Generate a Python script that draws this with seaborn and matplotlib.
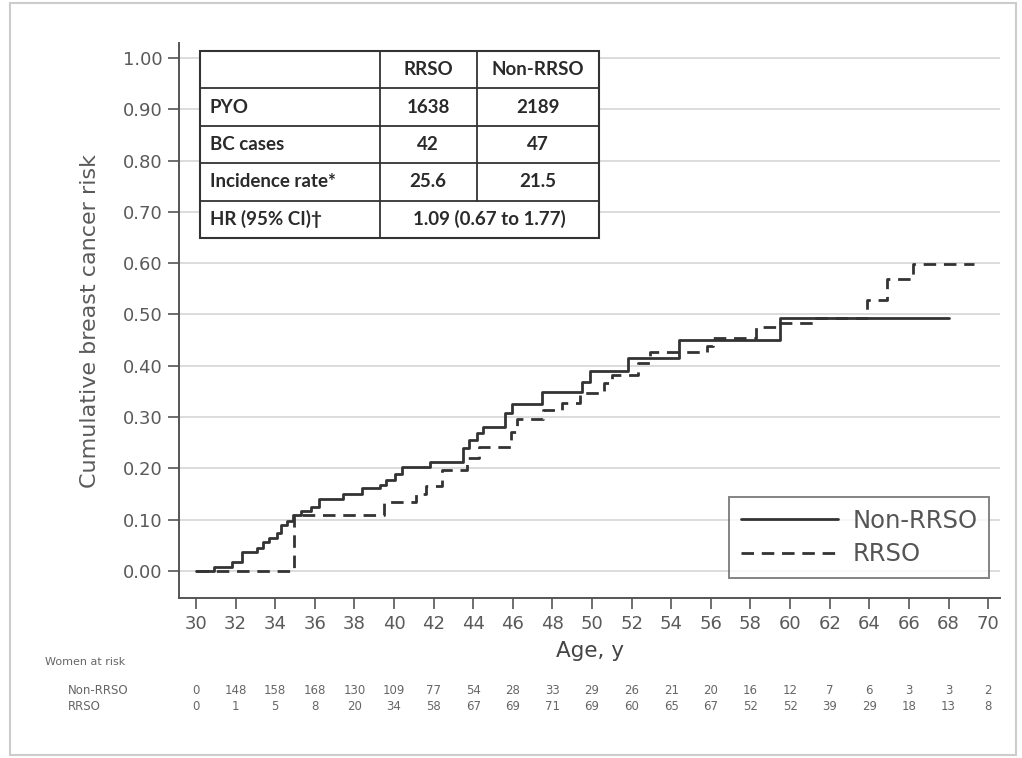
import numpy as np
import pandas as pd
import matplotlib
matplotlib.use("Agg")
import matplotlib.pyplot as plt
import seaborn as sns
from matplotlib.lines import Line2D
from matplotlib.patches import Rectangle

# ---------------- data ----------------
non_age = [30.0, 30.9, 31.8, 32.3, 33.1, 33.4, 33.7, 34.1, 34.3, 34.6, 34.9, 35.3, 35.8,
           36.2, 37.4, 38.4, 39.3, 39.6, 40.05, 40.4, 41.8, 43.5, 43.8, 44.2, 44.5, 45.6,
           45.95, 47.45, 49.5, 49.9, 51.8, 54.4, 59.5, 68.0]
non_risk = [0.0, 0.008, 0.017, 0.037, 0.045, 0.057, 0.065, 0.075, 0.089, 0.098, 0.110,
            0.116, 0.125, 0.140, 0.151, 0.161, 0.168, 0.177, 0.190, 0.203, 0.213, 0.239,
            0.255, 0.268, 0.281, 0.307, 0.326, 0.348, 0.369, 0.390, 0.415, 0.450, 0.494, 0.494]
rrso_age = [30.0, 34.95, 39.5, 41.1, 41.6, 42.4, 43.7, 44.3, 45.9, 46.2, 47.5, 48.5, 49.4,
            50.6, 51.0, 52.3, 52.9, 55.8, 56.1, 58.3, 59.5, 61.2, 63.9, 64.9, 66.2, 69.3]
rrso_risk = [0.0, 0.109, 0.134, 0.150, 0.166, 0.197, 0.220, 0.241, 0.270, 0.296, 0.314,
             0.327, 0.346, 0.366, 0.382, 0.405, 0.427, 0.439, 0.454, 0.475, 0.483, 0.493,
             0.528, 0.569, 0.598, 0.598]

risk_ages = list(range(30, 71, 2))
at_risk_non = [0, 148, 158, 168, 130, 109, 77, 54, 28, 33, 29, 26, 21, 20, 16, 12, 7, 6, 3, 3, 2]
at_risk_rrso = [0, 1, 5, 8, 20, 34, 58, 67, 69, 71, 69, 60, 65, 67, 52, 52, 39, 29, 18, 13, 8]

table_cols = ["", "RRSO", "Non-RRSO"]
table_rows = ["PYO", "BC cases", "Incidence rate*", "HR (95% CI)\u2020"]
table_rrso = ["1638", "42", "25.6"]
table_non = ["2189", "47", "21.5"]
table_hr = "1.09 (0.67 to 1.77)"

df = pd.concat([
    pd.DataFrame({"age": non_age, "risk": non_risk, "group": "Non-RRSO"}),
    pd.DataFrame({"age": rrso_age, "risk": rrso_risk, "group": "RRSO"}),
], ignore_index=True)

# ---------------- style ----------------
sns.set_theme(style="white")
plt.rcParams["font.family"] = ["DejaVu Sans"]

W, H = 1022, 758
fig = plt.figure(figsize=(W / 100, H / 100), dpi=100)
fig.patch.set_facecolor("white")

def fx(px):
    return px / W

def fy(py):
    return 1 - py / H

ax_l, ax_r, ax_t, ax_b = 179, 1000, 43, 598
ax = fig.add_axes([fx(ax_l), fy(ax_b), fx(ax_r - ax_l), (ax_b - ax_t) / H])

line_col = "#333333"
dash_pat = (4.5, 2.8)
sns.lineplot(data=df, x="age", y="risk", style="group",
             dashes={"Non-RRSO": "", "RRSO": dash_pat},
             estimator=None, sort=False, color=line_col, linewidth=2.0,
             drawstyle="steps-post", legend=False, ax=ax)

ax.set_xlim(29.14, 70.6)
ax.set_ylim(-0.0526, 1.029)
ax.set_xticks(risk_ages)
ax.set_yticks(np.arange(0, 1.001, 0.1))
ax.set_yticklabels([f"{v:.2f}" for v in np.arange(0, 1.001, 0.1)])
ax.yaxis.grid(True, color="#dcdcdc", linewidth=1.4)
ax.xaxis.grid(False)
ax.set_axisbelow(True)
for s in ["top", "right"]:
    ax.spines[s].set_visible(False)
for s in ["left", "bottom"]:
    ax.spines[s].set_color("#555555")
    ax.spines[s].set_linewidth(1.4)
ax.tick_params(axis="both", which="major", direction="out", length=8, width=1.2,
               color="#555555", labelcolor="#5a5a5a", labelsize=13, pad=4,
               bottom=True, left=True)
ax.set_xlabel("Age, y", fontsize=15.5, color="#444444", labelpad=6)
ax.set_ylabel("Cumulative breast cancer risk", fontsize=16, color="#5a5a5a", labelpad=16)

# legend
handles = [Line2D([], [], color=line_col, lw=2.0, linestyle="-"),
           Line2D([], [], color=line_col, lw=2.0, linestyle=(0, dash_pat))]
leg = ax.legend(handles, ["Non-RRSO", "RRSO"], loc="lower right",
                bbox_to_anchor=(0.987, 0.036), fontsize=17.5, handlelength=4.0,
                frameon=True, fancybox=False, borderpad=0.5, labelspacing=0.38,
                handletextpad=0.6, borderaxespad=0)
leg.get_frame().set_edgecolor("#666666")
leg.get_frame().set_linewidth(1.4)
leg._legend_box.sep = 0
for t in leg.get_texts():
    t.set_color("#555555")
# widen right padding of the legend box
leg._legend_box.pad = 8.5

# at-risk table
fig.text(fx(45), fy(662), "Women at risk", fontsize=8, color="#666666", va="center", ha="left")
fig.text(fx(68), fy(690), "Non-RRSO", fontsize=8.5, color="#666666", va="center", ha="left")
fig.text(fx(68), fy(706), "RRSO", fontsize=8.5, color="#666666", va="center", ha="left")
trans = ax.get_xaxis_transform()
y_non = (ax_b - 690) / (ax_b - ax_t)
y_rr = (ax_b - 706) / (ax_b - ax_t)
for a, n, r in zip(risk_ages, at_risk_non, at_risk_rrso):
    ax.text(a, y_non, str(n), transform=trans, fontsize=8.5, color="#666666",
            ha="center", va="center", clip_on=False)
    ax.text(a, y_rr, str(r), transform=trans, fontsize=8.5, color="#666666",
            ha="center", va="center", clip_on=False)

# summary table (inset)
t_l, t_r, t_t, t_b = 200, 599, 51, 238
tax = fig.add_axes([fx(t_l), fy(t_b), fx(t_r - t_l), (t_b - t_t) / H])
tax.set_xlim(0, 1)
tax.set_ylim(0, 1)
tax.axis("off")
tax.add_patch(Rectangle((0, 0), 1, 1, facecolor="white", edgecolor="#333333", lw=1.5,
                        transform=tax.transAxes, clip_on=False))
col_x = [0, 0.451, 0.693, 1.0]
row_h = 1 / 5
for i in range(1, 5):
    tax.plot([0, 1], [i * row_h, i * row_h], color="#333333", lw=1.3)
tax.plot([col_x[1], col_x[1]], [0, 1], color="#333333", lw=1.3)
tax.plot([col_x[2], col_x[2]], [row_h, 1], color="#333333", lw=1.3)
tfont = dict(fontsize=13.5, fontweight="bold", color="#2a2a2a", family=["Lato", "DejaVu Sans"])
for j, c in enumerate(table_cols):
    if c:
        tax.text((col_x[j] + col_x[j + 1]) / 2, 1 - row_h / 2, c, ha="center", va="center", **tfont)
for i, rname in enumerate(table_rows):
    yc = 1 - (i + 1.5) * row_h
    tax.text(0.025, yc, rname, ha="left", va="center", **tfont)
    if i < 3:
        tax.text((col_x[1] + col_x[2]) / 2, yc, table_rrso[i], ha="center", va="center", **tfont)
        tax.text((col_x[2] + col_x[3]) / 2, yc, table_non[i], ha="center", va="center", **tfont)
    else:
        tax.text((col_x[1] + col_x[3]) / 2, yc, table_hr, ha="center", va="center", **tfont)

# figure border
fig.patches.append(Rectangle((fx(10), fy(755)), fx(1006), (755 - 3) / H, fill=False,
                             edgecolor="#cccccc", lw=1.5, transform=fig.transFigure))

fig.savefig("out.png", dpi=100, facecolor="white")
